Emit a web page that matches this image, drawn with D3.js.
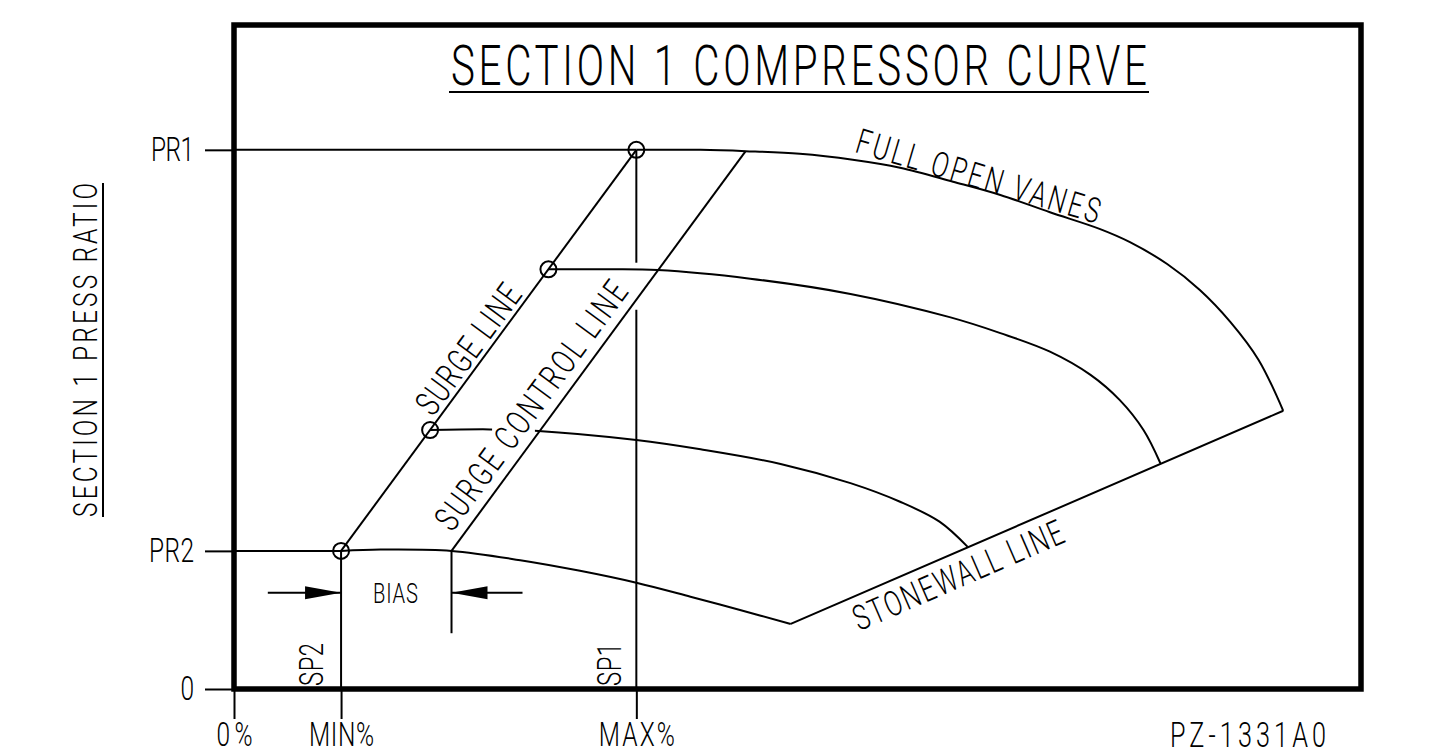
<!DOCTYPE html>
<html><head><meta charset="utf-8">
<script src="https://cdn.jsdelivr.net/npm/d3@7"></script>
<style>
html,body{margin:0;padding:0;background:#fff;}
svg{display:block;}
text{font-family:Roboto,"DejaVu Sans",sans-serif;font-weight:300;fill:#000;}
</style></head><body>
<svg id="c" width="1429" height="755"></svg>
<script>
// ---------------- DATA (flow: % of plot width, pressure ratio: % of plot height) ----------------
const xTickValues = [0, 9.5, 35.7];
const xTickLabels = ["0%", "MIN%", "MAX%"];
const yTickValues = [0, 20.8, 81.2];
const yTickLabels = ["0", "PR2", "PR1"];

const surgePoints = [[9.5, 20.8], [17.4, 39.0], [27.9, 63.2], [35.7, 81.2]];
const surgeControlLine = [[19.3, 20.8], [45.4, 81.0]];
const stonewallLine = [[49.4, 9.8], [93.1, 41.9]];

const curveFullOpen = [[35.7,81.2],[41.4,81.2],[45.4,81.0],[50.2,80.6],[54.9,79.7],[59.1,78.5],[63.8,76.4],[68.0,74.4],[72.4,71.8],[76.8,69.3],[79.5,67.3],[82.8,64.0],[85.7,60.1],[88.4,55.3],[90.9,49.6],[93.1,41.9]];
const curveVane2 = [[27.9,63.2],[32.5,63.2],[37.6,63.1],[45.8,61.8],[54.7,59.5],[63.5,56.0],[68.0,53.6],[72.4,50.8],[76.0,47.3],[78.6,43.5],[80.7,39.0],[82.2,34.0]];
const curveVane3 = [[17.4,39.0],[22.7,39.1],[26.7,38.9],[35.7,37.5],[41.4,36.1],[48.5,33.9],[54.7,31.0],[59.1,28.2],[62.6,25.2],[65.1,21.4]];
const curveVane4 = [[9.5,20.8],[13.0,21.0],[19.3,20.8],[25.4,19.4],[30.7,17.8],[35.7,16.0],[40.5,13.9],[44.9,11.9],[49.4,9.8]];

const biasLevel = 14.5;       // pressure level of the BIAS dimension arrows
const biasTickBottom = 8.4;   // lower end of the bias extension line
const biasArrowTails = [3.0, 25.6];
const sp1Gap = [57.1, 64.2];  // break in the SP1 line
const vane3Gap = [22.9, 26.7];// break in vane-3 curve behind text

// ---------------- CHART ----------------
const svg = d3.select("#c");
const x = d3.scaleLinear().domain([0, 100]).range([234, 1361]);
const y = d3.scaleLinear().domain([0, 100]).range([689, 25]);
const line = d3.line().x(d => x(d[0])).y(d => y(d[1]));
const smooth = d3.line().x(d => x(d[0])).y(d => y(d[1])).curve(d3.curveCatmullRom.alpha(0.5));

const thin = 2;
const K = 0.72; // horizontal condensing of the lettering
const g = svg.append("g").attr("fill", "none").attr("stroke", "#000").attr("stroke-width", thin);

// mask for vane3 gap
const defs = svg.append("defs");
const m = defs.append("mask").attr("id", "m3").attr("maskUnits", "userSpaceOnUse")
  .attr("x", 0).attr("y", 0).attr("width", 1429).attr("height", 755);
m.append("rect").attr("width", 1429).attr("height", 755).attr("fill", "#fff");
m.append("rect").attr("x", x(vane3Gap[0])).attr("width", x(vane3Gap[1]) - x(vane3Gap[0]))
  .attr("y", y(39) - 15).attr("height", 30).attr("fill", "#000");

// axes
const yAxis = svg.append("g").attr("transform", `translate(${x(0)},0)`)
  .call(d3.axisLeft(y).tickValues(yTickValues).tickFormat((d, i) => yTickLabels[i]).tickSize(29).tickPadding(11));
const xAxis = svg.append("g").attr("transform", `translate(0,${y(0)})`)
  .call(d3.axisBottom(x).tickValues(xTickValues).tickFormat((d, i) => xTickLabels[i]).tickSize(30).tickPadding(3));
[yAxis, xAxis].forEach(a => {
  a.select(".domain").remove();
  a.selectAll(".tick line").attr("stroke", "#000").attr("stroke-width", thin);
  a.selectAll(".tick text").attr("fill", "#000").style("font-size", "34px");
});
const tickWidths = {"0": 15, "PR2": 45, "PR1": 43, "0%": 36, "MIN%": 65, "MAX%": 76};
svg.selectAll(".tick text").each(function () {
  const t = d3.select(this);
  const x0 = +t.attr("x") || 0;
  t.attr("x", x0 / K).attr("transform", `scale(${K},1)`)
   .attr("textLength", tickWidths[t.text()] / K).attr("lengthAdjust", "spacing");
});

// reference lines
g.append("path").attr("d", line([[0, yTickValues[2]], surgePoints[3]]));
g.append("path").attr("d", line([[0, yTickValues[1]], surgePoints[0]]));
g.append("path").attr("d", line([surgePoints[0], [xTickValues[1], 0]]));
g.append("path").attr("d", line([surgePoints[3], [xTickValues[2], sp1Gap[1]]]));
g.append("path").attr("d", line([[xTickValues[2], sp1Gap[0]], [xTickValues[2], 0]]));

// surge & control & stonewall lines
g.append("path").attr("d", line([surgePoints[0], surgePoints[3]]));
g.append("path").attr("d", line(surgeControlLine));
g.append("path").attr("d", line([surgeControlLine[0], [surgeControlLine[0][0], biasTickBottom]]));
g.append("path").attr("d", line(stonewallLine));

// curves
g.append("path").attr("d", smooth(curveFullOpen));
g.append("path").attr("d", smooth(curveVane2));
g.append("path").attr("d", smooth(curveVane3)).attr("mask", "url(#m3)");
g.append("path").attr("d", smooth(curveVane4));

// circles
g.selectAll("circle.sp").data(surgePoints).join("circle")
  .attr("cx", d => x(d[0])).attr("cy", d => y(d[1])).attr("r", 8).attr("fill", "none");

// bias arrows
g.append("path").attr("d", line([[biasArrowTails[0], biasLevel], [surgePoints[0][0], biasLevel]]));
g.append("path").attr("d", line([[biasArrowTails[1], biasLevel], [surgeControlLine[0][0], biasLevel]]));
const by = y(biasLevel);
const ax1 = x(surgePoints[0][0]), ax2 = x(surgeControlLine[0][0]);
svg.append("path").attr("d", `M${ax1},${by}L${ax1 - 36},${by - 6.5}L${ax1 - 36},${by + 6.5}Z`).attr("fill", "#000");
svg.append("path").attr("d", `M${ax2},${by}L${ax2 + 36},${by - 6.5}L${ax2 + 36},${by + 6.5}Z`).attr("fill", "#000");

// frame
svg.append("rect").attr("x", x(0)).attr("y", y(100)).attr("width", x(100) - x(0)).attr("height", y(0) - y(100))
  .attr("fill", "none").attr("stroke", "#000").attr("stroke-width", 5.5);

// ---------------- TEXT ----------------
function txt(str, px, py, size, len, rot, anchor) {
  return svg.append("text").attr("transform", `translate(${px},${py}) rotate(${rot || 0}) scale(${K},1)`)
    .attr("text-anchor", anchor || "start").style("font-size", size + "px")
    .attr("textLength", len / K).attr("lengthAdjust", "spacing").text(str);
}
// title
txt("SECTION 1 COMPRESSOR CURVE", 451, 85, 56, 696);
svg.append("line").attr("x1", 449).attr("x2", 1149).attr("y1", 92).attr("y2", 92).attr("stroke", "#000").attr("stroke-width", thin);
// y title
txt("SECTION 1 PRESS RATIO", 97, 350, 34, 334, -90, "middle");
svg.append("line").attr("x1", 103).attr("x2", 103).attr("y1", 183).attr("y2", 517).attr("stroke", "#000").attr("stroke-width", thin);
// SP labels
txt("SP2", x(xTickValues[1]) - 18, y(0) - 3, 33, 43, -90);
txt("SP1", x(xTickValues[2]) - 15, y(0) - 3, 33, 43, -90);
// BIAS
txt("BIAS", 373, 603, 28, 45);
// drawing number
txt("PZ-1331A0", 1170, 747, 35, 156);

// text along a line
function along(p0, p1, dist, off, str, size, len) {
  const a = [x(p0[0]), y(p0[1])], b = [x(p1[0]), y(p1[1])];
  const L = Math.hypot(b[0] - a[0], b[1] - a[1]);
  const d = [(b[0] - a[0]) / L, (b[1] - a[1]) / L];
  const th = Math.atan2(d[1], d[0]);
  const up = [Math.sin(th), -Math.cos(th)];
  const px = a[0] + d[0] * dist + up[0] * off, py = a[1] + d[1] * dist + up[1] * off;
  txt(str, px, py, size, len, th * 180 / Math.PI);
}
along(surgePoints[0], surgePoints[3], 162, 5, "SURGE LINE", 35, 152);
along(surgeControlLine[0], surgeControlLine[1], 15, 10, "SURGE CONTROL LINE", 35, 299);
along(stonewallLine[0], stonewallLine[1], 60, -34, "STONEWALL LINE", 35, 226);
txt("FULL OPEN VANES", x(55.0), y(80.9), 35, 253, 16.5);
</script>
</body></html>
